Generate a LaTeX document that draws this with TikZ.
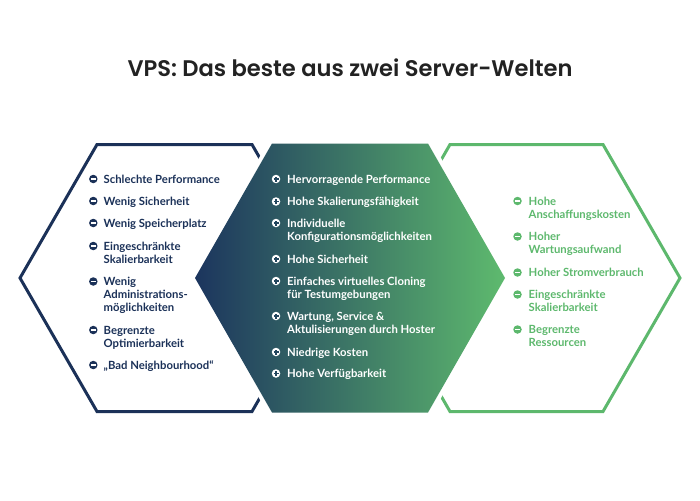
\documentclass[tikz,border=0pt]{standalone}
\usepackage{fontspec}
\setmainfont{Lato}
\newfontfamily\titlefont{Poppins SemiBold}
\definecolor{navy}{HTML}{1B3158}
\definecolor{vgreen}{HTML}{5DB86D}
\definecolor{titlegray}{HTML}{222222}
\definecolor{midleft}{HTML}{1C355E}
\definecolor{midright}{HTML}{5EBA6E}
\definecolor{plusmark}{HTML}{24475F}
\newcommand\itemlines[1]{\begin{tabular}[t]{@{}l@{}}#1\end{tabular}}
\tikzset{
  hexline/.style={line width=3pt, line join=miter},
  itemtext/.style={anchor=base west, inner sep=0pt, font=\fontsize{11.3}{13}\selectfont\bfseries},
  icon/.style={circle, inner sep=0pt, minimum size=8.5pt, fill=#1},
  minusicon/.style={icon=#1, path picture={\draw[white,line width=1.8pt] ([xshift=-2.4pt]path picture bounding box.center) -- ([xshift=2.4pt]path picture bounding box.center);}},
  plusicon/.style={icon=white, path picture={\draw[#1,line width=1.6pt] ([xshift=-2.5pt]path picture bounding box.center) -- ([xshift=2.5pt]path picture bounding box.center); \draw[#1,line width=1.6pt] ([yshift=-2.5pt]path picture bounding box.center) -- ([yshift=2.5pt]path picture bounding box.center);}}
}
\begin{document}
\begin{tikzpicture}[x=1pt,y=-1pt]
\useasboundingbox (0,0) rectangle (700,500);
% hexagons
\draw[hexline, navy] (20,278) -- (97,144.5) -- (252,144.5) -- (329,278) -- (252,411.5) -- (97,411.5) -- cycle;
\draw[hexline, vgreen] (373,278) -- (450,144.5) -- (603,144.5) -- (680,278) -- (603,411.5) -- (450,411.5) -- cycle;
\draw[white, line width=9pt, line join=miter] (195,278) -- (272,144.5) -- (428,144.5) -- (505,278) -- (428,411.5) -- (272,411.5) -- cycle;
\shade[left color=midleft, right color=midright] (195,278) -- (272,143.5) -- (428,143.5) -- (505,278) -- (428,412.5) -- (272,412.5) -- cycle;
% title
\node[anchor=base, inner sep=0pt, text=titlegray, font=\titlefont\fontsize{22.6}{26}\selectfont] (title) at (350,77) {VPS: Das beste aus zwei Server-Welten};
% left column
\node[minusicon=navy] (li1) at (93.3,179) {};
\node[itemtext, text=navy] (lt1) at (103.5,183) {\itemlines{Schlechte Performance}};
\node[minusicon=navy] (li2) at (93.3,201) {};
\node[itemtext, text=navy] (lt2) at (103.5,205) {\itemlines{Wenig Sicherheit}};
\node[minusicon=navy] (li3) at (93.3,223) {};
\node[itemtext, text=navy] (lt3) at (103.5,227) {\itemlines{Wenig Speicherplatz}};
\node[minusicon=navy] (li4) at (93.3,246) {};
\node[itemtext, text=navy] (lt4) at (103.5,250) {\itemlines{Eingeschränkte\\Skalierbarkeit}};
\node[minusicon=navy] (li5) at (93.3,281.5) {};
\node[itemtext, text=navy] (lt5) at (103.5,285.5) {\itemlines{Wenig\\Administrations-\\möglichkeiten}};
\node[minusicon=navy] (li6) at (93.3,330) {};
\node[itemtext, text=navy] (lt6) at (103.5,334) {\itemlines{Begrenzte\\Optimierbarkeit}};
\node[minusicon=navy] (li7) at (93.3,365) {};
\node[itemtext, text=navy] (lt7) at (103.5,369) {\itemlines{„Bad Neighbourhood“}};
% middle column
\node[plusicon=plusmark] (mi1) at (276,179) {};
\node[itemtext, text=white] (mt1) at (287,183) {\itemlines{Hervorragende Performance}};
\node[plusicon=plusmark] (mi2) at (276,201.5) {};
\node[itemtext, text=white] (mt2) at (287,205.5) {\itemlines{Hohe Skalierungsfähigkeit}};
\node[plusicon=plusmark] (mi3) at (276,223) {};
\node[itemtext, text=white] (mt3) at (287,227) {\itemlines{Individuelle\\Konfigurationsmöglichkeiten}};
\node[plusicon=plusmark] (mi4) at (276,259) {};
\node[itemtext, text=white] (mt4) at (287,263) {\itemlines{Hohe Sicherheit}};
\node[plusicon=plusmark] (mi5) at (276,281) {};
\node[itemtext, text=white] (mt5) at (287,285) {\itemlines{Einfaches virtuelles Cloning\\für Testumgebungen}};
\node[plusicon=plusmark] (mi6) at (276,316) {};
\node[itemtext, text=white] (mt6) at (287,320) {\itemlines{Wartung, Service \&\\Aktulisierungen durch Hoster}};
\node[plusicon=plusmark] (mi7) at (276,352) {};
\node[itemtext, text=white] (mt7) at (287,356) {\itemlines{Niedrige Kosten}};
\node[plusicon=plusmark] (mi8) at (276,373.5) {};
\node[itemtext, text=white] (mt8) at (287,377.5) {\itemlines{Hohe Verfügbarkeit}};
% right column
\node[minusicon=vgreen] (ri1) at (517.5,201) {};
\node[itemtext, text=vgreen] (rt1) at (528.5,205) {\itemlines{Hohe\\Anschaffungskosten}};
\node[minusicon=vgreen] (ri2) at (517.5,236.5) {};
\node[itemtext, text=vgreen] (rt2) at (528.5,240.5) {\itemlines{Hoher\\Wartungsaufwand}};
\node[minusicon=vgreen] (ri3) at (517.5,272.5) {};
\node[itemtext, text=vgreen] (rt3) at (528.5,276.5) {\itemlines{Hoher Stromverbrauch}};
\node[minusicon=vgreen] (ri4) at (517.5,294.5) {};
\node[itemtext, text=vgreen] (rt4) at (528.5,298.5) {\itemlines{Eingeschränkte\\Skalierbarkeit}};
\node[minusicon=vgreen] (ri5) at (517.5,329.5) {};
\node[itemtext, text=vgreen] (rt5) at (528.5,333.5) {\itemlines{Begrenzte\\Ressourcen}};
\end{tikzpicture}
\end{document}
